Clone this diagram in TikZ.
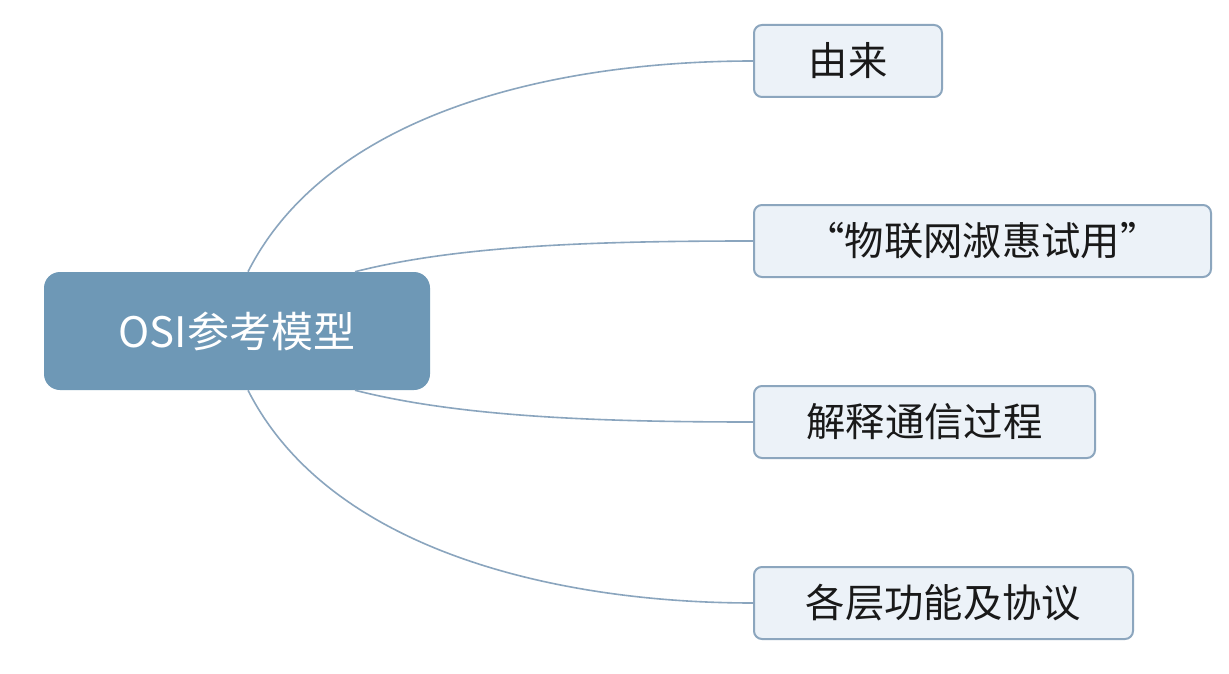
\documentclass[tikz,border=0pt]{standalone}
\usepackage{fontspec}
\setmainfont{Noto Sans CJK SC}
\usetikzlibrary{calc}
\definecolor{hubfill}{RGB}{110,152,182}
\definecolor{leaffill}{RGB}{236,242,248}
\definecolor{leafline}{RGB}{140,166,190}
\definecolor{linkcol}{RGB}{138,165,190}
\definecolor{txt}{RGB}{25,25,25}
\tikzset{
  hub/.style={draw=none, fill=hubfill, rounded corners=12pt, minimum width=386*0.75pt, minimum height=118*0.75pt, inner sep=0pt, text=white, font=\fontsize{31.5}{36}\selectfont},
  leaf/.style={draw=leafline, line width=1.5pt, fill=leaffill, rounded corners=6pt, minimum height=72*0.75pt, inner sep=0pt, text=txt, font=\fontsize{29.5}{34}\selectfont},
  link/.style={draw=linkcol, line width=1.2pt}
}
\begin{document}
\begin{tikzpicture}[x=0.75pt,y=-0.75pt]
\fill[white] (0,0) rectangle (1229,674);
\useasboundingbox (0,0) rectangle (1229,674);
\node[hub] (c) at (237,331) {OSI参考模型};
\node[leaf, minimum width=188*0.75pt] (b1) at (848,61) {由来};
\node[leaf, minimum width=457*0.75pt] (b2) at (982.5,241) {“物联网淑惠试用”};
\node[leaf, minimum width=341*0.75pt] (b3) at (924.5,422) {解释通信过程};
\node[leaf, minimum width=379*0.75pt] (b4) at (943.5,603) {各层功能及协议};
\draw[link] ($(c.north)+(11,0)$) .. controls (330,110) and (560,61) .. (b1.west);
\draw[link] ($(c.north)+(118,0)$) .. controls (460,245) and (600,241) .. (b2.west);
\draw[link] ($(c.south)+(118,0)$) .. controls (460,417) and (600,422) .. (b3.west);
\draw[link] ($(c.south)+(11,0)$) .. controls (330,552) and (560,603) .. (b4.west);
\end{tikzpicture}
\end{document}
